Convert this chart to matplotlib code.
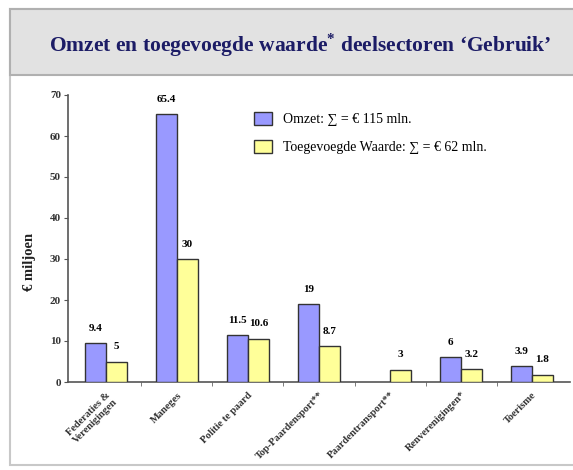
import matplotlib
matplotlib.use("Agg")
import matplotlib.pyplot as plt
from matplotlib.patches import Rectangle, Patch
import numpy as np

plt.rcParams['font.family'] = ['Liberation Serif', 'DejaVu Serif']
plt.rcParams['mathtext.fontset'] = 'custom'
plt.rcParams['mathtext.rm'] = 'Liberation Serif'
plt.rcParams['mathtext.bf'] = 'Liberation Serif:bold'

categories = ["Federaties &\nVerenigingen", "Maneges", "Politie te paard",
              "Top-Paardensport**", "Paardentransport**", "Renverenigingen*", "Toerisme"]
omzet = [9.4, 65.4, 11.5, 19, np.nan, 6, 3.9]
toegevoegd = [5, 30, 10.6, 8.7, 3, 3.2, 1.8]
omzet_labels = ["9.4", "65.4", "11.5", "19", "", "6", "3.9"]
toeg_labels = ["5", "30", "10.6", "8.7", "3", "3.2", "1.8"]
yticks = [0, 10, 20, 30, 40, 50, 60, 70]
legend_labels = ["Omzet: \u2211 = \u20ac 115 mln.", "Toegevoegde Waarde: \u2211 = \u20ac 62 mln."]

W, H = 573, 470
fig = plt.figure(figsize=(W/100, H/100), dpi=100)
fig.patch.set_facecolor('white')

def fx(px): return px / W
def fy(py): return 1 - py / H

# outer frame (white area)
fig.add_artist(Rectangle((fx(10), fy(465)), fx(580) - fx(10), fy(9) - fy(465),
                         transform=fig.transFigure, facecolor='white',
                         edgecolor='#c8c8c8', linewidth=1.5, zorder=0))
# title band
fig.add_artist(Rectangle((fx(10), fy(75)), fx(580) - fx(10), fy(9) - fy(75),
                         transform=fig.transFigure, facecolor='#e2e2e2',
                         edgecolor='#b0b0b0', linewidth=1.5, zorder=1))
fig.text(fx(300), fy(45), "Omzet en toegevoegde waarde$^{\\mathbf{*}}$ deelsectoren \u2018Gebruik\u2019",
         ha='center', va='center', fontsize=15.5, fontweight='bold', color='#1c1c66')

ax = fig.add_axes([fx(68), fy(382), fx(570) - fx(68), fy(95) - fy(382)])
ax.set_facecolor('none')
x = np.arange(len(categories))
bw = 0.29
blue = '#9999ff'
yellow = '#ffff99'
ax.bar(x - bw/2, omzet, bw, color=blue, edgecolor='#333333', linewidth=1.0, zorder=3)
ax.bar(x + bw/2, toegevoegd, bw, color=yellow, edgecolor='#333333', linewidth=1.0, zorder=3)

for xi, v, lab in zip(x, omzet, omzet_labels):
    if lab:
        ax.text(xi - bw/2, v + 2.5, lab, ha='center', va='bottom', fontsize=8, fontweight='bold')
for xi, v, lab in zip(x, toegevoegd, toeg_labels):
    ax.text(xi + bw/2, v + 2.5, lab, ha='center', va='bottom', fontsize=8, fontweight='bold')

ax.set_xlim(-0.535, len(categories) - 0.465)
ax.set_ylim(0, 70)
ax.set_yticks(yticks)
ax.set_yticklabels([str(t) for t in yticks], fontsize=8, fontweight='bold', color='#333333')
ax.set_xticks(x)
ax.set_xticklabels(categories, rotation=45, ha='right', va='top', rotation_mode='anchor',
                   fontsize=7.5, fontweight='bold', color='#333333', linespacing=1.1)
ax.tick_params(axis='x', length=0, pad=6)
ax.set_xticks(x[:-1] + 0.5, minor=True)
ax.tick_params(axis='x', which='minor', length=3, color='#666666', direction='out')
ax.tick_params(axis='y', length=3, color='#555555', pad=2)
for s in ['top', 'right']:
    ax.spines[s].set_visible(False)
for s in ['left', 'bottom']:
    ax.spines[s].set_color('#555555')
    ax.spines[s].set_linewidth(1.2)

fig.text(fx(30), fy(262), "\u20ac miljoen", rotation=90, ha='center', va='center',
         fontsize=10.5, fontweight='bold', color='#222222')

handles = [Patch(facecolor=blue, edgecolor='#333333'), Patch(facecolor=yellow, edgecolor='#333333')]
fig.legend(handles, legend_labels, loc='upper left', bbox_to_anchor=(fx(241), fy(100)),
           frameon=False, fontsize=10, handlelength=1.3, handleheight=1.0,
           labelspacing=1.0, handletextpad=0.8)

fig.savefig("out.png", dpi=100)
